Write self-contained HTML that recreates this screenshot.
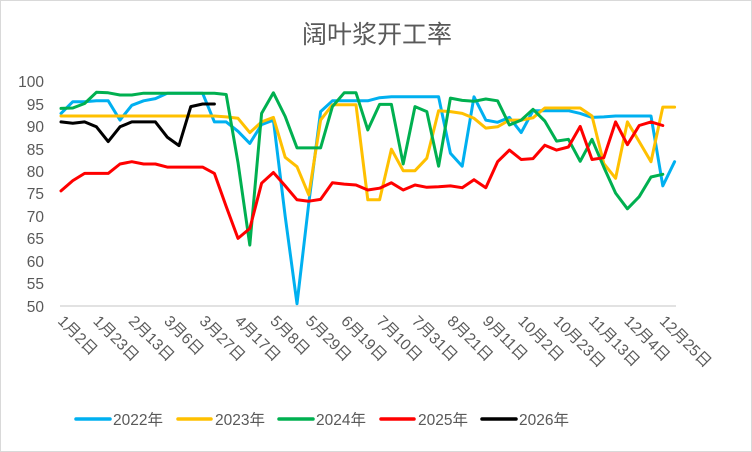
<!DOCTYPE html>
<html><head><meta charset="utf-8"><style>
html,body{margin:0;padding:0;background:#fff}
svg{display:block}
text{font-family:"Liberation Sans","Noto Sans CJK SC",sans-serif;fill:#595959}
</style></head><body>
<svg id="s" width="752" height="452" viewBox="0 0 752 452" xmlns="http://www.w3.org/2000/svg">
<rect x="0.5" y="0.5" width="751" height="451" fill="#fff" stroke="#d9d9d9"/>
<text x="377" y="43" font-size="25" text-anchor="middle">阔叶浆开工率</text>
<line x1="60" y1="306" x2="676" y2="306" stroke="#d9d9d9" stroke-width="1.5"/>
<g font-size="15.5" text-anchor="end">
<text x="44" y="87">100</text><text x="44" y="110">95</text><text x="44" y="132">90</text><text x="44" y="155">85</text><text x="44" y="177">80</text><text x="44" y="199">75</text><text x="44" y="222">70</text><text x="44" y="244">65</text><text x="44" y="267">60</text><text x="44" y="289">55</text><text x="44" y="312">50</text>
</g>
<g id="xl" font-size="15.5"></g>
<g id="lines" fill="none" stroke-width="3" stroke-linejoin="round" stroke-linecap="round"></g>
<g font-size="15.5">
<line x1="76" y1="419" x2="110" y2="419" stroke="#00b0f0" stroke-width="3.5" stroke-linecap="round"/><text x="113" y="425">2022年</text>
<line x1="178" y1="419" x2="211" y2="419" stroke="#ffc000" stroke-width="3.5" stroke-linecap="round"/><text x="215" y="425">2023年</text>
<line x1="279" y1="419" x2="313" y2="419" stroke="#00b050" stroke-width="3.5" stroke-linecap="round"/><text x="316" y="425">2024年</text>
<line x1="381" y1="419" x2="414" y2="419" stroke="#ff0000" stroke-width="3.5" stroke-linecap="round"/><text x="418" y="425">2025年</text>
<line x1="482" y1="419" x2="516" y2="419" stroke="#000" stroke-width="3.5" stroke-linecap="round"/><text x="519" y="425">2026年</text>
</g>
</svg>
<script>
var X=function(i){return 61+i*11.8},Y=function(v){return 306-(v-50)*4.48};
var labels=["1月2日","1月23日","2月13日","3月6日","3月27日","4月17日","5月8日","5月29日","6月19日","7月10日","7月31日","8月21日","9月11日","10月2日","10月23日","11月13日","12月4日","12月25日"];
var xl=document.getElementById('xl'),ns="http://www.w3.org/2000/svg";
labels.forEach(function(l,k){var t=document.createElementNS(ns,'text');var x=X(k*3)-4,y=322;t.setAttribute('x',x);t.setAttribute('y',y);t.setAttribute('transform','rotate(45 '+x+' '+y+')');t.textContent=l;xl.appendChild(t);});
var S=[
["#00b0f0",[93,95.6,95.6,95.8,95.8,91.5,94.8,95.8,96.3,97.5,97.5,97.5,97.5,91.1,91.1,89,86.3,90.5,91.5,70,50.5,73,93.4,95.8,95.8,95.8,95.8,96.5,96.7,96.7,96.7,96.7,96.7,84.1,81.2,96.7,91.5,91,92.1,88.7,93.6,93.6,93.6,93.6,93,92.1,92.2,92.4,92.4,92.4,92.4,76.8,82.2]],
["#ffc000",[92.4,92.4,92.4,92.4,92.4,92.4,92.4,92.4,92.4,92.4,92.4,92.4,92.4,92.4,92.2,91.9,88.7,91.1,92.1,83.2,81.1,74.8,91.5,94.9,94.9,94.9,73.7,73.7,85,80.2,80.2,83,93.6,93.4,93,91.9,89.7,90,91.5,91.5,92,94.2,94.2,94.2,94.2,92.4,81.8,78.5,91.1,86.7,82.2,94.4,94.4]],
["#00b050",[94.1,94.2,95.2,97.7,97.6,97.1,97.1,97.5,97.5,97.5,97.5,97.5,97.5,97.5,97.2,82,63.6,93,97.6,92.3,85.3,85.3,85.3,94.5,97.6,97.6,89.3,95,95,81.7,94.5,93.4,81.2,96.4,95.9,95.7,96.2,95.8,90.4,91.5,93.9,91.3,86.8,87.2,82.3,87.2,81,75.2,71.7,74.4,78.8,79.4]],
["#ff0000",[75.7,78,79.6,79.6,79.6,81.7,82.2,81.7,81.7,81,81,81,81,79.6,72.2,65.1,67.3,77.4,79.8,76.8,73.7,73.4,73.8,77.5,77.2,77,75.9,76.3,77.5,75.9,77,76.5,76.6,76.8,76.4,78.2,76.4,82.2,84.8,82.7,82.9,85.9,84.8,85.5,90.1,82.7,83.1,91.1,86,90.3,91.1,90.3]],
["#000000",[91.1,90.8,91.1,90,86.7,90,91.1,91.1,91.1,87.7,85.8,94.5,95.1,95.1]]
];
var g=document.getElementById('lines');
S.forEach(function(s){var p=document.createElementNS(ns,'polyline');p.setAttribute('stroke',s[0]);p.setAttribute('points',s[1].map(function(v,i){return X(i).toFixed(1)+','+Y(v).toFixed(1)}).join(' '));g.appendChild(p);});
</script>
</body></html>
